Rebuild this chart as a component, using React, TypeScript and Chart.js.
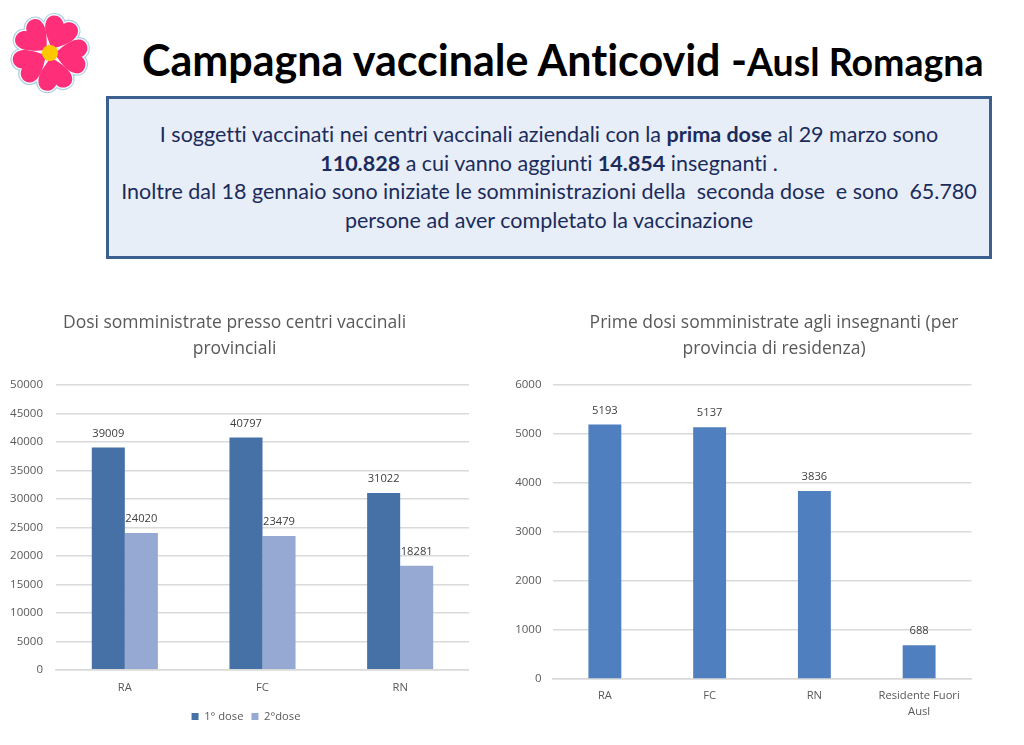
import React, { useEffect, useRef } from "react";
import { Chart, registerables } from "chart.js";

Chart.register(...registerables);

const leftCategories = ["RA", "FC", "RN"];
const firstDose = [39009, 40797, 31022];
const secondDose = [24020, 23479, 18281];
const rightCategories = ["RA", "FC", "RN", ["Residente Fuori", "Ausl"]];
const teacherDoses = [5193, 5137, 3836, 688];
const leftTitle = ["Dosi somministrate presso centri vaccinali", "provinciali"];
const rightTitle = ["Prime dosi somministrate agli insegnanti (per", "provincia di residenza)"];

const CHART_FONT = "'Open Sans', sans-serif";
const TEXT = "#595959";

const valueLabels = {
  id: "valueLabels",
  afterDatasetsDraw(chart: any) {
    const { ctx } = chart;
    ctx.save();
    ctx.fillStyle = "#404040";
    ctx.font = `11.2px ${CHART_FONT}`;
    ctx.textAlign = "center";
    ctx.textBaseline = "middle";
    chart.data.datasets.forEach((ds: any, i: number) => {
      chart.getDatasetMeta(i).data.forEach((bar: any, j: number) => {
        ctx.fillText(String(ds.data[j]), bar.x, bar.y - 14);
      });
    });
    ctx.restore();
  },
};

const legendShift = {
  id: "legendShift",
  afterLayout(chart: any) {
    if (chart.legend && chart.options.plugins.legend.display) chart.legend.left += 23;
  },
};

function useBarChart(ref: React.RefObject<HTMLCanvasElement | null>, cfg: any) {
  useEffect(() => {
    if (!ref.current) return;
    const chart = new Chart(ref.current, cfg());
    return () => chart.destroy();
  }, []);
}

function baseOptions(o: {
  title: string[];
  max: number;
  step: number;
  yWidth: number;
  yPad: number;
  xHeight: number;
  xPad: number;
  padding: any;
  titleBottom: number;
  legend: boolean;
  rightGap: number;
}) {
  const scales: any = {
    x: {
      grid: { display: false },
      border: { color: "#D9D9D9", width: 1.5 },
      ticks: {
        color: TEXT,
        font: { family: CHART_FONT, size: 11.2, lineHeight: 1.5 },
        maxRotation: 0,
        autoSkip: false,
        padding: o.xPad,
      },
      afterFit: (s: any) => {
        s.height = o.xHeight;
      },
    },
    y: {
      min: 0,
      max: o.max,
      grid: { color: "#DADADA", lineWidth: 1.5, drawTicks: false },
      border: { display: false },
      ticks: {
        stepSize: o.step,
        color: TEXT,
        font: { family: CHART_FONT, size: 11.5 },
        padding: o.yPad,
        callback: (v: number) => String(v),
      },
      afterFit: (s: any) => {
        s.width = o.yWidth;
      },
    },
  };
  if (o.rightGap > 0) {
    scales.gap = {
      type: "linear",
      position: "right",
      display: true,
      grid: { display: false },
      border: { display: false },
      ticks: { display: false },
      afterFit: (s: any) => {
        s.width = o.rightGap;
      },
    };
  }
  return {
    responsive: false,
    animation: false,
    layout: { padding: o.padding },
    plugins: {
      title: {
        display: true,
        text: o.title,
        color: TEXT,
        font: { family: CHART_FONT, size: 17.5, weight: "normal", lineHeight: 1.5 },
        padding: { top: 0, bottom: o.titleBottom },
      },
      legend: {
        display: o.legend,
        position: "bottom",
        labels: {
          boxWidth: 7,
          boxHeight: 7,
          padding: 8,
          color: TEXT,
          font: { family: CHART_FONT, size: 11.2 },
        },
      },
      tooltip: { enabled: false },
    },
    scales,
  };
}

const petalAngles = [25, 97, 169, 241, 313];
const heart = "M0 -4 C-5 -10 -17 -18 -17 -28 C-17 -37 -5 -40 0 -32 C5 -40 17 -37 17 -28 C17 -18 5 -10 0 -4 Z";

function Flower() {
  return (
    <svg width={90} height={90} viewBox="-45 -45 90 90" style={{ position: "absolute", left: 5, top: 8 }}>
      {petalAngles.map((a) => (
        <path key={`o${a}`} d={heart} transform={`rotate(${a})`} fill="#A9CFE4" stroke="#A9CFE4" strokeWidth={5} />
      ))}
      {petalAngles.map((a) => (
        <path key={`w${a}`} d={heart} transform={`rotate(${a})`} fill="#F4FAFD" stroke="#F4FAFD" strokeWidth={2.6} />
      ))}
      {petalAngles.map((a) => (
        <path key={`f${a}`} d={heart} transform={`rotate(${a})`} fill="#FF2E78" />
      ))}
      <circle r={8} fill="#FFC800" />
    </svg>
  );
}

export default function App() {
  const leftRef = useRef<HTMLCanvasElement>(null);
  const rightRef = useRef<HTMLCanvasElement>(null);

  useBarChart(leftRef, () => ({
    type: "bar",
    plugins: [valueLabels, legendShift],
    data: {
      labels: leftCategories,
      datasets: [
        { label: "1° dose", data: firstDose, backgroundColor: "#4571A7", barPercentage: 1, categoryPercentage: 0.48 },
        { label: "2°dose", data: secondDose, backgroundColor: "#95A9D2", barPercentage: 1, categoryPercentage: 0.48 },
      ],
    },
    options: baseOptions({
      title: leftTitle,
      max: 50000,
      step: 5000,
      yWidth: 56,
      yPad: 13,
      xHeight: 33,
      xPad: 2,
      padding: { top: 10, right: 0, bottom: 13, left: 0 },
      titleBottom: 22.5,
      legend: true,
      rightGap: 0,
    }),
  }));

  useBarChart(rightRef, () => ({
    type: "bar",
    plugins: [valueLabels],
    data: {
      labels: rightCategories,
      datasets: [
        { label: "Insegnanti", data: teacherDoses, backgroundColor: "#4F7FBE", barPercentage: 1, categoryPercentage: 0.314 },
      ],
    },
    options: baseOptions({
      title: rightTitle,
      max: 6000,
      step: 1000,
      yWidth: 62.5,
      yPad: 11,
      xHeight: 48,
      xPad: 0,
      padding: { top: 10, right: 0, bottom: 18, left: 0 },
      titleBottom: 22.5,
      legend: false,
      rightGap: 86.5,
    }),
  }));

  return (
    <div
      style={{
        position: "fixed",
        left: 0,
        top: 0,
        width: 1024,
        height: 745,
        background: "#fff",
        overflow: "hidden",
        fontFamily: "Lato, sans-serif",
        fontVariantLigatures: "none",
      }}
    >
      <Flower />
      <div
        style={{
          position: "absolute",
          left: 142,
          top: 34,
          whiteSpace: "nowrap",
          fontWeight: 700,
          color: "#000",
          fontSize: 43,
          lineHeight: "52px",
        }}
      >
        Campagna vaccinale Anticovid -<span style={{ fontSize: 37.5 }}>Ausl Romagna</span>
      </div>
      <div
        style={{
          position: "absolute",
          left: 106,
          top: 96,
          width: 886,
          height: 163,
          boxSizing: "border-box",
          border: "3px solid #3B5F8F",
          background: "#E8EEF7",
          color: "#1B2C5C",
          fontSize: 21.5,
          lineHeight: "28.7px",
          textAlign: "center",
          paddingTop: 21,
          whiteSpace: "nowrap",
        }}
      >
        I soggetti vaccinati nei centri vaccinali aziendali con la <b>prima dose</b> al 29 marzo sono
        <br />
        <b>110.828</b> a cui vanno aggiunti <b>14.854</b> insegnanti .
        <br />
        Inoltre dal 18 gennaio sono iniziate le somministrazioni della&nbsp; seconda dose&nbsp; e sono&nbsp; 65.780
        <br />
        persone ad aver completato la vaccinazione
      </div>
      <canvas
        ref={leftRef}
        width={469}
        height={445}
        style={{ position: "absolute", left: 0, top: 300, width: 469, height: 445 }}
      />
      <div style={{ position: "absolute", left: 490, top: 300, width: 534, height: 445, overflow: "hidden" }}>
        <canvas
          ref={rightRef}
          width={568}
          height={445}
          style={{ position: "absolute", left: 0, top: 0, width: 568, height: 445 }}
        />
      </div>
    </div>
  );
}
